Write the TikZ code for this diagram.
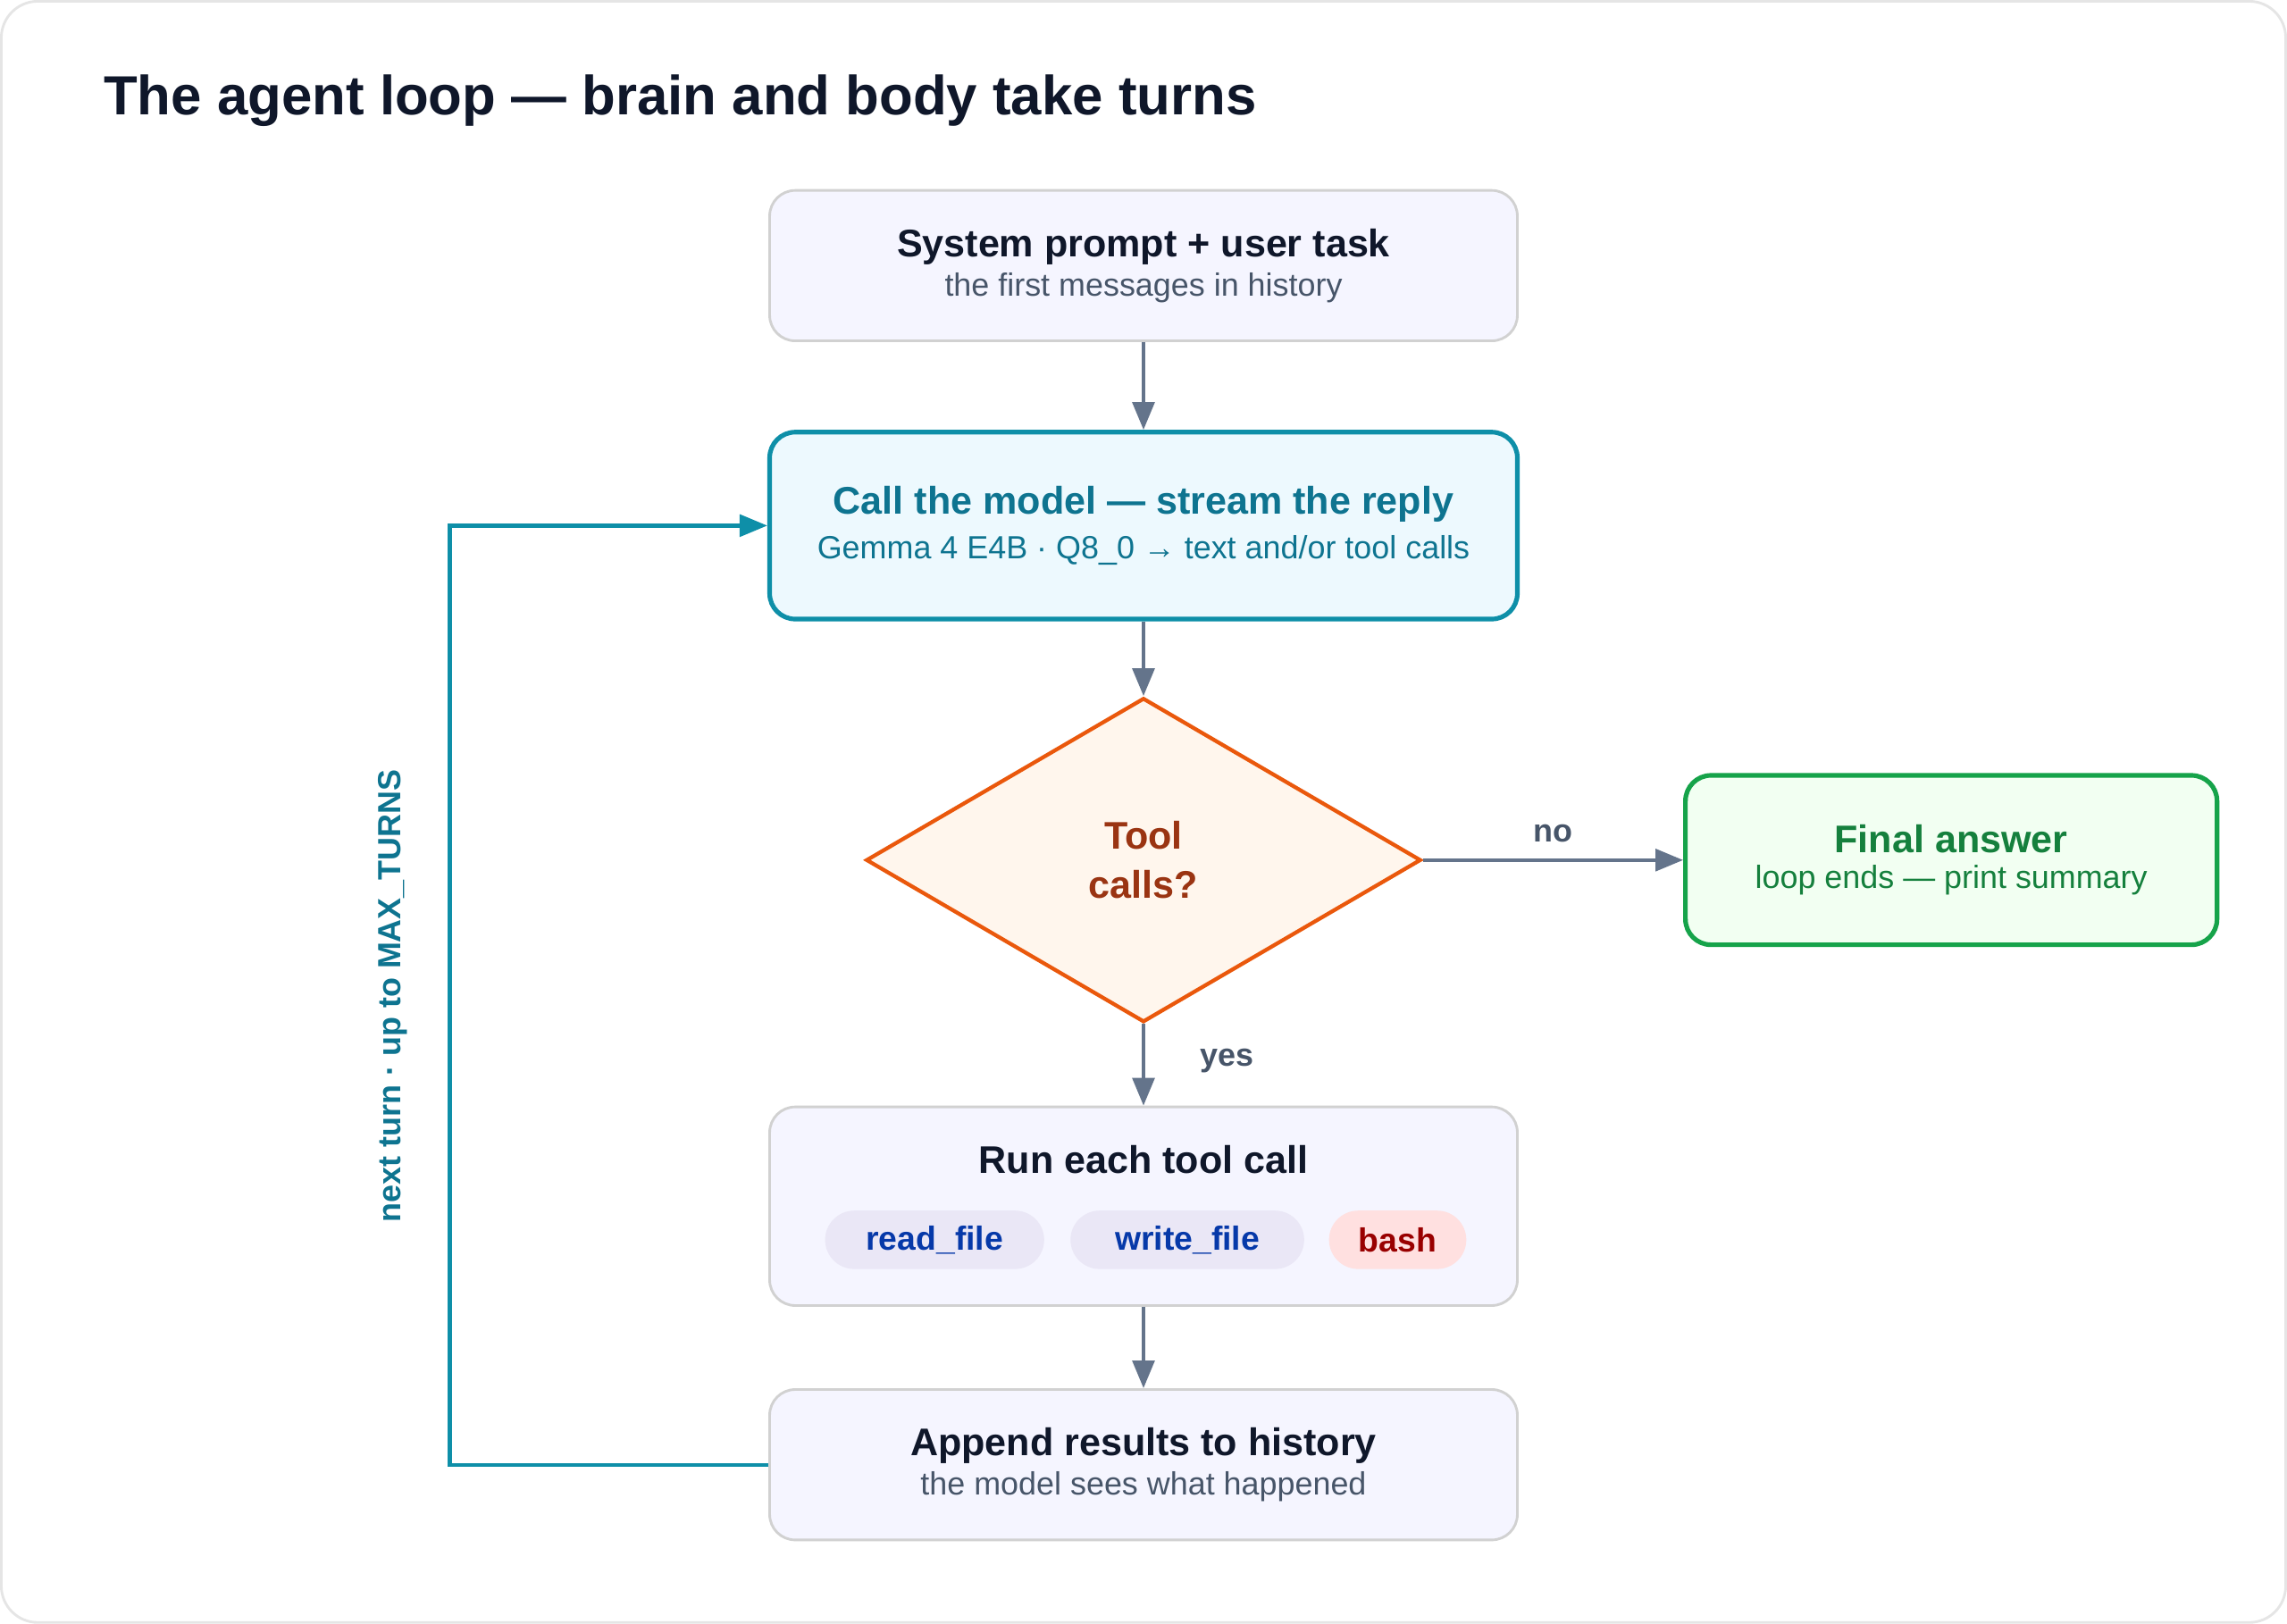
\documentclass[tikz,border=0pt]{standalone}
\usepackage{fontspec}
\setmainfont{Liberation Sans}
\usetikzlibrary{positioning,shapes.geometric,arrows.meta}

\definecolor{ink}{HTML}{0F172A}
\definecolor{sub}{HTML}{475569}
\definecolor{edge}{HTML}{64748B}
\definecolor{teal}{HTML}{0E8FA8}
\definecolor{tealtxt}{HTML}{0E7490}
\definecolor{orng}{HTML}{EA580C}
\definecolor{orngtxt}{HTML}{9A3412}
\definecolor{grn}{HTML}{16A34A}
\definecolor{grntxt}{HTML}{15803D}

\begin{document}
\begin{tikzpicture}[
x=0.02cm, y=-0.02cm,
stage/.style={rectangle, rounded corners=0.35cm, draw=black!18, fill=blue!4!white, line width=1pt, minimum width=10.24cm, minimum height=2.06cm, align=center, text=ink},
model/.style={stage, draw=teal, fill=cyan!7!white, line width=1.8pt, minimum height=2.56cm, text=tealtxt},
decide/.style={diamond, draw=orng, fill=orange!7!white, line width=1.5pt, minimum width=7.6cm, minimum height=4.44cm, align=center, text=orngtxt, font=\bfseries\fontsize{15}{19}\selectfont},
final/.style={stage, draw=grn, fill=green!5!white, line width=1.8pt, minimum width=7.28cm, minimum height=2.32cm, text=grntxt},
pill/.style={rectangle, rounded corners=0.4cm, fill=cyan!10!blue!8!white, text=blue!50!teal!80!black, minimum height=0.8cm, font=\bfseries\fontsize{13}{15}\selectfont},
flow/.style={draw=edge, line width=1.5pt, -{Triangle[length=0.38cm,width=0.3cm]}},
hd/.style={font=\bfseries\fontsize{15}{19}\selectfont}
]
%Frame
\draw[black!10, line width=1pt, fill=white, rounded corners=0.5cm] (2,2) rectangle (1566,1112);
\node[anchor=west, text=ink, font=\bfseries\fontsize{21.5}{26}\selectfont] (title) at (66,70) {The agent loop — brain and body take turns};

%Nodes
\node[stage]  (prompt) at (784,183)  {{\bfseries\fontsize{15}{19}\selectfont System prompt + user task}\\[2pt] {\color{sub}\fontsize{12.5}{16}\selectfont the first messages in history}};
\node[model]  (call)   at (784,361)  {{\bfseries\fontsize{15}{19}\selectfont Call the model — stream the reply}\\[4pt] {\fontsize{12.5}{16}\selectfont Gemma 4 E4B · Q8\_0 → text and/or tool calls}};
\node[decide] (tool)   at (784,590)  {Tool\\ calls?};
\node[final]  (answer) at (1337,590) {{\bfseries\fontsize{15}{19}\selectfont Final answer}\\[2pt] {\color{grntxt}\fontsize{12.5}{16}\selectfont loop ends — print summary}};
\node[stage, minimum height=2.72cm] (run) at (784,827) {};
\node[hd, text=ink] (runlbl) at (784,795) {Run each tool call};
\node[pill, minimum width=3cm]   (readf)  at (641,850) {read\_file};
\node[pill, minimum width=3.2cm] (writef) at (814,850) {write\_file};
\node[pill, minimum width=1.88cm, fill=red!12!white, text=red!60!black] (bashf) at (958,850) {bash};
\node[stage]  (append) at (784,1004) {{\bfseries\fontsize{15}{19}\selectfont Append results to history}\\[2pt] {\color{sub}\fontsize{12.5}{16}\selectfont the model sees what happened}};
\coordinate (back) at (309,1004);

%Lines
\draw[flow] (prompt.south) -- (call.north);
\draw[flow] (call.south) -- (tool.north);
\draw[flow] (tool.east) -- node[above=3pt, text=sub, font=\bfseries\fontsize{12.5}{15}\selectfont] {no} (answer.west);
\draw[flow] (tool.south) -- node[right=18pt, text=sub, font=\bfseries\fontsize{12.5}{15}\selectfont, pos=0.45] {yes} (run.north);
\draw[flow] (run.south) -- (append.north);
\draw[draw=teal, line width=1.5pt, -{Triangle[length=0.38cm,width=0.3cm]}] (append.west) -- (back) |- (call.west);
\node[rotate=90, text=tealtxt, font=\bfseries\fontsize{12.5}{15}\selectfont] (turns) at (270,683) {next turn · up to MAX\_TURNS};
\end{tikzpicture}
\end{document}
